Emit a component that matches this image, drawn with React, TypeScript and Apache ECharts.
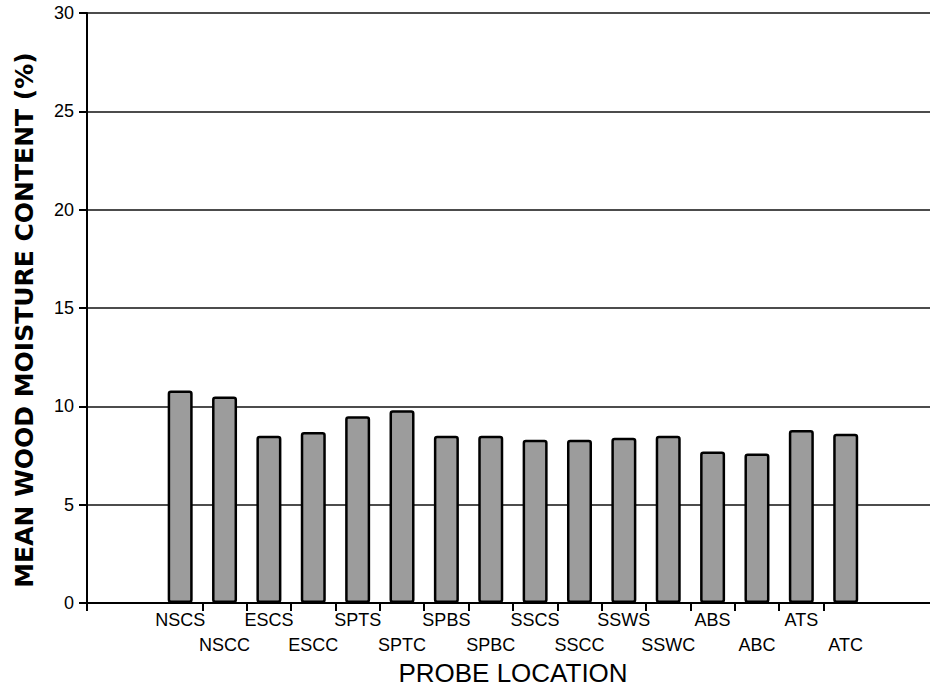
import React, { useEffect, useRef } from "react";
import * as echarts from "echarts";

const categories = [
  "NSCS", "NSCC", "ESCS", "ESCC", "SPTS", "SPTC", "SPBS", "SPBC",
  "SSCS", "SSCC", "SSWS", "SSWC", "ABS", "ABC", "ATS", "ATC",
];
const moisture = [10.8, 10.5, 8.5, 8.7, 9.5, 9.8, 8.5, 8.5, 8.3, 8.3, 8.4, 8.5, 7.7, 7.6, 8.8, 8.6];
const yTicks = [0, 5, 10, 15, 20, 25, 30];
const xTitle = "PROBE LOCATION";
const yTitle = "MEAN WOOD MOISTURE CONTENT (%)";

export default function App() {
  const ref = useRef<HTMLDivElement>(null);
  useEffect(() => {
    if (!ref.current) return;
    const chart = echarts.init(ref.current, null, { renderer: "svg" });
    const barData = moisture.map((v, i) => [i, v]);
    const evenPos = categories.map((_, i) => i).filter((i) => i % 2 === 0);
    const oddPos = categories.map((_, i) => i).filter((i) => i % 2 === 1);
    const tickPos = [-2.1, ...categories.slice(1).map((_, i) => i + 0.5)];
    const labelBase = {
      show: true,
      showMinLabel: true,
      showMaxLabel: true,
      hideOverlap: false,
      color: "#000",
      fontSize: 18,
      lineHeight: 25,
      formatter: (v: number) => categories[Math.round(v)] ?? "",
    };
    chart.setOption({
      animation: false,
      backgroundColor: "#ffffff",
      textStyle: { fontFamily: "Liberation Sans, Arial, sans-serif" },
      grid: { left: 87, right: 0, top: 13, bottom: 86, containLabel: false },
      xAxis: [
        {
          type: "value",
          min: -2.1,
          max: 16.9,
          position: "bottom",
          splitLine: { show: false },
          axisLine: { show: true, onZero: false, lineStyle: { color: "#000", width: 2 } },
          axisTick: {
            show: true,
            length: 8,
            lineStyle: { color: "#000", width: 2 },
            customValues: tickPos,
          },
          axisLabel: { ...labelBase, customValues: evenPos, margin: 4 },
        },
        {
          type: "value",
          min: -2.1,
          max: 16.9,
          position: "bottom",
          offset: 0,
          splitLine: { show: false },
          axisLine: { show: false, onZero: false },
          axisTick: { show: false },
          axisLabel: { ...labelBase, customValues: oddPos, margin: 29 },
        },
      ],
      yAxis: {
        type: "value",
        min: yTicks[0],
        max: yTicks[yTicks.length - 1],
        interval: 5,
        axisLine: { show: true, onZero: false, lineStyle: { color: "#000", width: 2 } },
        axisTick: { show: true, length: 8, lineStyle: { color: "#000", width: 2 } },
        axisLabel: { color: "#000", fontSize: 18, margin: 13 },
        splitLine: { show: true, lineStyle: { color: "#111", width: 1.5 } },
      },
      series: [
        {
          type: "bar",
          xAxisIndex: 0,
          data: barData,
          barWidth: 25,
          itemStyle: {
            color: "#9c9c9c",
            borderColor: "#000",
            borderWidth: 2.5,
            borderRadius: 2,
          },
        },
      ],
      graphic: [
        {
          type: "text",
          x: 513,
          y: 673,
          style: {
            text: xTitle,
            fontSize: 26,
            fontFamily: "Liberation Sans, Arial, sans-serif",
            fill: "#000",
            align: "center",
            verticalAlign: "middle",
          },
        },
        {
          type: "text",
          x: 24,
          y: 320,
          rotation: Math.PI / 2,
          style: {
            text: yTitle,
            fontSize: 25,
            fontWeight: "bold",
            fontFamily: "DejaVu Sans, sans-serif",
            fill: "#000",
            align: "center",
            verticalAlign: "middle",
          },
        },
      ],
    });
    return () => chart.dispose();
  }, []);
  return (
    <div
      ref={ref}
      style={{ position: "absolute", left: 0, top: 0, width: 930, height: 689 }}
    />
  );
}
